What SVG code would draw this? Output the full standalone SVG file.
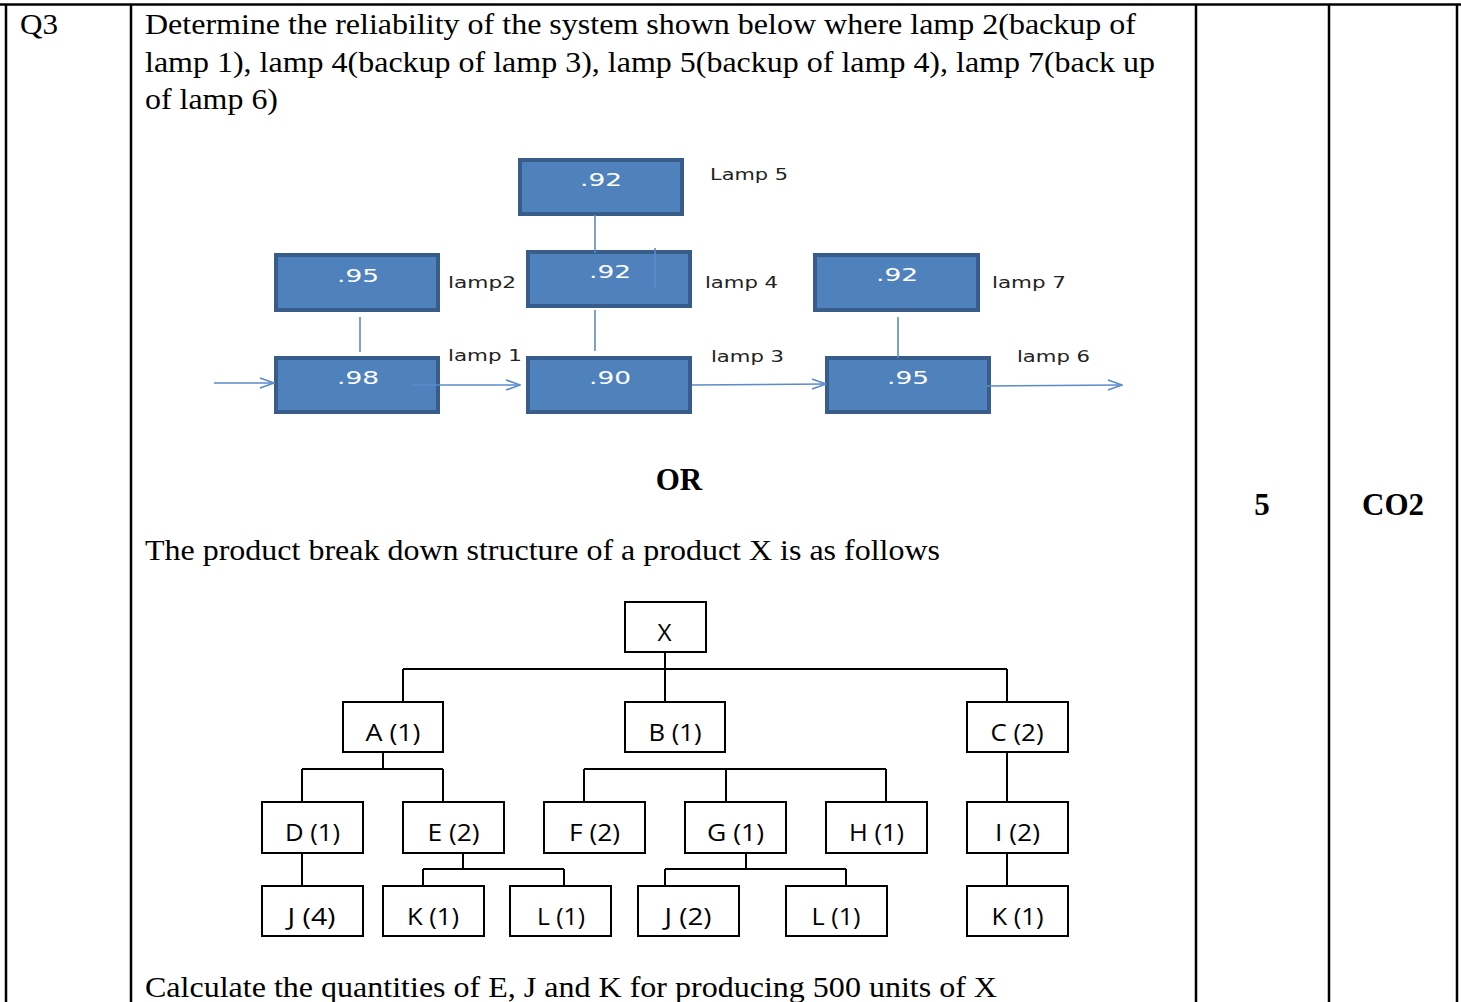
<svg xmlns="http://www.w3.org/2000/svg" width="1461" height="1002" viewBox="0 0 1461 1002">
<defs>
<style>
.tbl{stroke:#000;stroke-width:2.5;fill:none}
.q{font-family:"Liberation Serif","Times New Roman",serif;font-size:29.5px;fill:#000}
.qb{font-family:"Liberation Serif","Times New Roman",serif;font-size:31px;font-weight:bold;fill:#000}
.lamp rect{fill:#4F81BD;stroke:#385D8A;stroke-width:4}
.lv{font-family:"DejaVu Sans",Verdana,sans-serif;font-size:18px;fill:#fff;text-anchor:middle}
.ll{font-family:"DejaVu Sans",Verdana,sans-serif;font-size:16px;fill:#222}
.bl{stroke:#5B8BC9;stroke-width:1.6;fill:none}
.tn rect{fill:#fff;stroke:#000;stroke-width:2}
.tt{font-family:"Open Sans","Noto Sans",sans-serif;font-size:24px;fill:#000;text-anchor:middle}
.tl{stroke:#000;stroke-width:2;fill:none}
</style>
<marker id="oa" viewBox="0 0 16 12" refX="15" refY="6" markerWidth="16" markerHeight="12" markerUnits="userSpaceOnUse" orient="auto">
<path d="M1,1 L15,6 L1,11" fill="none" stroke="#5B8BC9" stroke-width="1.6"/>
</marker>
</defs>
<rect width="1461" height="1002" fill="#fff"/>

<g id="table">
<line class="tbl" x1="0" y1="4.5" x2="1461" y2="4.5"/>
<line class="tbl" x1="6" y1="4" x2="6" y2="1002"/>
<line class="tbl" x1="131" y1="4" x2="131" y2="1002"/>
<line class="tbl" x1="1196" y1="4" x2="1196" y2="1002"/>
<line class="tbl" x1="1329" y1="4" x2="1329" y2="1002"/>
<line class="tbl" x1="1457" y1="4" x2="1457" y2="1002"/>
</g>

<g id="texts">
<text class="q" x="20" y="34" textLength="38" lengthAdjust="spacingAndGlyphs">Q3</text>
<text class="q" x="145" y="34" textLength="991" lengthAdjust="spacingAndGlyphs">Determine the reliability of the system shown below where lamp 2(backup of</text>
<text class="q" x="145" y="72" textLength="1010" lengthAdjust="spacingAndGlyphs">lamp 1), lamp 4(backup of lamp 3), lamp 5(backup of lamp 4), lamp 7(back up</text>
<text class="q" x="145" y="109" textLength="133" lengthAdjust="spacingAndGlyphs">of lamp 6)</text>
<text class="qb" x="679" y="490" text-anchor="middle">OR</text>
<text class="q" x="145" y="560" textLength="795" lengthAdjust="spacingAndGlyphs">The product break down structure of a product X is as follows</text>
<text class="q" x="145" y="997" textLength="852" lengthAdjust="spacingAndGlyphs">Calculate the quantities of E, J and K for producing 500 units of X</text>
<text class="qb" x="1262" y="515" text-anchor="middle">5</text>
<text class="qb" x="1393" y="515" text-anchor="middle">CO2</text>
</g>

<g id="lamp5" class="lamp"><rect x="520" y="160" width="162" height="54"/><text class="lv" x="601" y="186" textLength="42" lengthAdjust="spacingAndGlyphs">.92</text></g>
<g id="lamp2" class="lamp"><rect x="276" y="255" width="162" height="55"/><text class="lv" x="358" y="282" textLength="42" lengthAdjust="spacingAndGlyphs">.95</text></g>
<g id="lamp4" class="lamp"><rect x="528" y="252" width="162" height="54"/><text class="lv" x="610" y="278" textLength="42" lengthAdjust="spacingAndGlyphs">.92</text></g>
<g id="lamp7" class="lamp"><rect x="815" y="255" width="163" height="55"/><text class="lv" x="897" y="281" textLength="42" lengthAdjust="spacingAndGlyphs">.92</text></g>
<g id="lamp1" class="lamp"><rect x="276" y="358" width="162" height="54"/><text class="lv" x="358" y="384" textLength="42" lengthAdjust="spacingAndGlyphs">.98</text></g>
<g id="lamp3" class="lamp"><rect x="528" y="358" width="162" height="54"/><text class="lv" x="610" y="384" textLength="42" lengthAdjust="spacingAndGlyphs">.90</text></g>
<g id="lamp6" class="lamp"><rect x="827" y="358" width="162" height="54"/><text class="lv" x="908" y="384" textLength="42" lengthAdjust="spacingAndGlyphs">.95</text></g>

<g id="lamp-connectors">
<line class="bl" x1="595" y1="215" x2="595" y2="253"/>
<line class="bl" x1="655" y1="248" x2="655" y2="288"/>
<line class="bl" x1="360" y1="317" x2="360" y2="352"/>
<line class="bl" x1="595" y1="310" x2="595" y2="351"/>
<line class="bl" x1="898" y1="317" x2="898" y2="358"/>
<line class="bl" x1="214" y1="383" x2="274" y2="383" marker-end="url(#oa)"/>
<line class="bl" x1="413" y1="385" x2="520" y2="385" marker-end="url(#oa)"/>
<line class="bl" x1="692" y1="385" x2="826" y2="384" marker-end="url(#oa)"/>
<line class="bl" x1="987" y1="386" x2="1122" y2="385" marker-end="url(#oa)"/>
</g>

<g id="lamp-labels">
<text class="ll" x="710" y="180" textLength="78" lengthAdjust="spacingAndGlyphs">Lamp 5</text>
<text class="ll" x="448" y="288" textLength="68" lengthAdjust="spacingAndGlyphs">lamp2</text>
<text class="ll" x="705" y="288" textLength="73" lengthAdjust="spacingAndGlyphs">lamp 4</text>
<text class="ll" x="992" y="288" textLength="74" lengthAdjust="spacingAndGlyphs">lamp 7</text>
<text class="ll" x="448" y="361" textLength="74" lengthAdjust="spacingAndGlyphs">lamp 1</text>
<text class="ll" x="711" y="362" textLength="73" lengthAdjust="spacingAndGlyphs">lamp 3</text>
<text class="ll" x="1017" y="362" textLength="73" lengthAdjust="spacingAndGlyphs">lamp 6</text>
</g>

<g id="tree-connectors">
<path class="tl" d="M665,652 V702 M403,669 H1007 M403,669 V702 M1007,669 V702"/>
<path class="tl" d="M383,752 V769 M302,769 H443 M302,769 V802 M443,769 V802"/>
<path class="tl" d="M584,769 H886 M584,769 V802 M726,769 V802 M886,769 V802"/>
<path class="tl" d="M1007,752 V802 M1007,853 V886"/>
<path class="tl" d="M302,853 V886"/>
<path class="tl" d="M463,853 V869 M423,869 H564 M423,869 V886 M564,869 V886"/>
<path class="tl" d="M746,853 V869 M665,869 H846 M665,869 V886 M846,869 V886"/>
</g>

<g id="nX" class="tn"><rect x="625" y="602" width="81" height="50"/><text class="tt" x="664.5" y="641" textLength="14" lengthAdjust="spacingAndGlyphs">X</text></g>
<g id="nA" class="tn"><rect x="343" y="702" width="100" height="50"/><text class="tt" x="393" y="741" textLength="55" lengthAdjust="spacingAndGlyphs">A (1)</text></g>
<g id="nB" class="tn"><rect x="625" y="702" width="100" height="50"/><text class="tt" x="675" y="741" textLength="53" lengthAdjust="spacingAndGlyphs">B (1)</text></g>
<g id="nC" class="tn"><rect x="967" y="702" width="101" height="50"/><text class="tt" x="1017" y="741" textLength="53" lengthAdjust="spacingAndGlyphs">C (2)</text></g>
<g id="nD" class="tn"><rect x="262" y="802" width="101" height="51"/><text class="tt" x="312.5" y="841" textLength="55" lengthAdjust="spacingAndGlyphs">D (1)</text></g>
<g id="nE" class="tn"><rect x="403" y="802" width="101" height="51"/><text class="tt" x="453.5" y="841" textLength="52" lengthAdjust="spacingAndGlyphs">E (2)</text></g>
<g id="nF" class="tn"><rect x="544" y="802" width="101" height="51"/><text class="tt" x="594.5" y="841" textLength="51" lengthAdjust="spacingAndGlyphs">F (2)</text></g>
<g id="nG" class="tn"><rect x="685" y="802" width="101" height="51"/><text class="tt" x="735.5" y="841" textLength="57" lengthAdjust="spacingAndGlyphs">G (1)</text></g>
<g id="nH" class="tn"><rect x="826" y="802" width="101" height="51"/><text class="tt" x="876.5" y="841" textLength="55" lengthAdjust="spacingAndGlyphs">H (1)</text></g>
<g id="nI" class="tn"><rect x="967" y="802" width="101" height="51"/><text class="tt" x="1017.5" y="841" textLength="45" lengthAdjust="spacingAndGlyphs">I (2)</text></g>
<g id="nJ4" class="tn"><rect x="262" y="886" width="101" height="50"/><text class="tt" x="311.5" y="925" textLength="48" lengthAdjust="spacingAndGlyphs">J (4)</text></g>
<g id="nK1" class="tn"><rect x="383" y="886" width="101" height="50"/><text class="tt" x="433" y="925" textLength="52" lengthAdjust="spacingAndGlyphs">K (1)</text></g>
<g id="nL1" class="tn"><rect x="510" y="886" width="101" height="50"/><text class="tt" x="561" y="925" textLength="48" lengthAdjust="spacingAndGlyphs">L (1)</text></g>
<g id="nJ2" class="tn"><rect x="638" y="886" width="101" height="50"/><text class="tt" x="688" y="925" textLength="47" lengthAdjust="spacingAndGlyphs">J (2)</text></g>
<g id="nL2" class="tn"><rect x="786" y="886" width="101" height="50"/><text class="tt" x="836" y="925" textLength="49" lengthAdjust="spacingAndGlyphs">L (1)</text></g>
<g id="nK2" class="tn"><rect x="967" y="886" width="101" height="50"/><text class="tt" x="1017.5" y="925" textLength="52" lengthAdjust="spacingAndGlyphs">K (1)</text></g>
</svg>
